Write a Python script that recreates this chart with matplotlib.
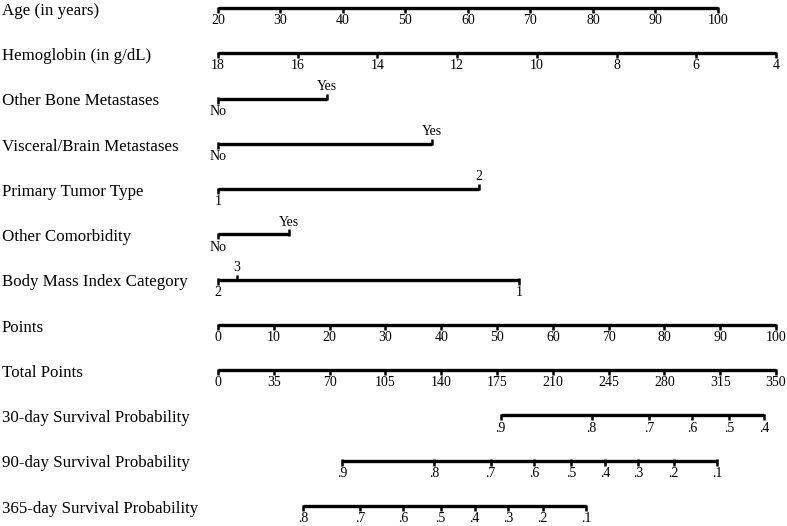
import matplotlib.pyplot as plt
import numpy as np

plt.rcParams['font.family'] = ['Liberation Serif', 'DejaVu Serif']

# row names, top to bottom
row_names = ['Age (in years)', 'Hemoglobin (in g/dL)', 'Other Bone Metastases',
             'Visceral/Brain Metastases', 'Primary Tumor Type', 'Other Comorbidity',
             'Body Mass Index Category', 'Points', 'Total Points',
             '30-day Survival Probability', '90-day Survival Probability',
             '365-day Survival Probability']

# continuous predictors: tick values and the points at both ends
age_ticks = [20, 30, 40, 50, 60, 70, 80, 90, 100]
age_end_points = [0, 89.6]
hgb_ticks = [18, 16, 14, 12, 10, 8, 6, 4]
hgb_end_points = [0, 100]

# categorical predictors: level labels and points
bone_labels = ['No', 'Yes']
bone_points = [0, 19.5]
visceral_labels = ['No', 'Yes']
visceral_points = [0, 38.3]
tumor_labels = ['1', '2']
tumor_points = [0, 46.7]
comorb_labels = ['No', 'Yes']
comorb_points = [0, 12.7]
bmi_labels = ['2', '3', '1']
bmi_points = [0, 3.4, 54.0]

points_ticks = list(range(0, 101, 10))
total_ticks = list(range(0, 351, 35))
total_max = 350

# survival probabilities and the total points where they sit
surv30_labels = ['.9', '.8', '.7', '.6', '.5', '.4']
surv30_total = [177.2, 234.4, 270.4, 297.6, 320.5, 342.4]
surv90_labels = ['.9', '.8', '.7', '.6', '.5', '.4', '.3', '.2', '.1']
surv90_total = [77.8, 135.4, 171.0, 198.1, 221.3, 242.9, 263.7, 285.8, 313.0]
surv365_labels = ['.8', '.7', '.6', '.5', '.4', '.3', '.2', '.1']
surv365_total = [53.2, 89.1, 116.3, 139.6, 160.9, 181.8, 203.7, 231.0]

W, H = 787, 526
fig = plt.figure(figsize=(W / 100, H / 100), dpi=100)
ax = fig.add_axes([218 / W, 20 / H, 558 / W, 498 / H])
ax.set_xlim(0, 100)
ax.set_ylim(11, 0)
ax.axis('off')

tick_len = 0.11
lab_below = 0.28
lab_above = 0.27


def draw_scale(row, pos, labels, above=None):
    pos = np.asarray(pos, dtype=float)
    ax.plot([pos.min(), pos.max()], [row, row], color='black', lw=2.4,
            solid_capstyle='butt', clip_on=False)
    for i, (x, lab) in enumerate(zip(pos, labels)):
        up = above is not None and above[i]
        d = -1 if up else 1
        ax.plot([x, x], [row - 0.03 * d, row + tick_len * d], color='black',
                lw=1.8, solid_capstyle='butt', clip_on=False)
        off = lab_above if up else lab_below
        ax.text(x, row + off * d, lab, ha='center', va='center',
                fontsize=10, clip_on=False)


for r, name in enumerate(row_names):
    ax.text(-216 / 558, r + 0.06, name, transform=ax.get_yaxis_transform(),
            ha='left', va='center', fontsize=12.2)

draw_scale(0, np.interp(age_ticks, [age_ticks[0], age_ticks[-1]], age_end_points),
           [str(v) for v in age_ticks])
draw_scale(1, np.interp(hgb_ticks, [hgb_ticks[-1], hgb_ticks[0]], hgb_end_points[::-1]),
           [str(v) for v in hgb_ticks])
draw_scale(2, bone_points, bone_labels, [False, True])
draw_scale(3, visceral_points, visceral_labels, [False, True])
draw_scale(4, tumor_points, tumor_labels, [False, True])
draw_scale(5, comorb_points, comorb_labels, [False, True])
draw_scale(6, bmi_points, bmi_labels, [False, True, False])
draw_scale(7, points_ticks, [str(v) for v in points_ticks])
draw_scale(8, np.array(total_ticks) * 100 / total_max, [str(v) for v in total_ticks])
draw_scale(9, np.array(surv30_total) * 100 / total_max, surv30_labels)
draw_scale(10, np.array(surv90_total) * 100 / total_max, surv90_labels)
draw_scale(11, np.array(surv365_total) * 100 / total_max, surv365_labels)

fig.savefig('out.png', dpi=100)
